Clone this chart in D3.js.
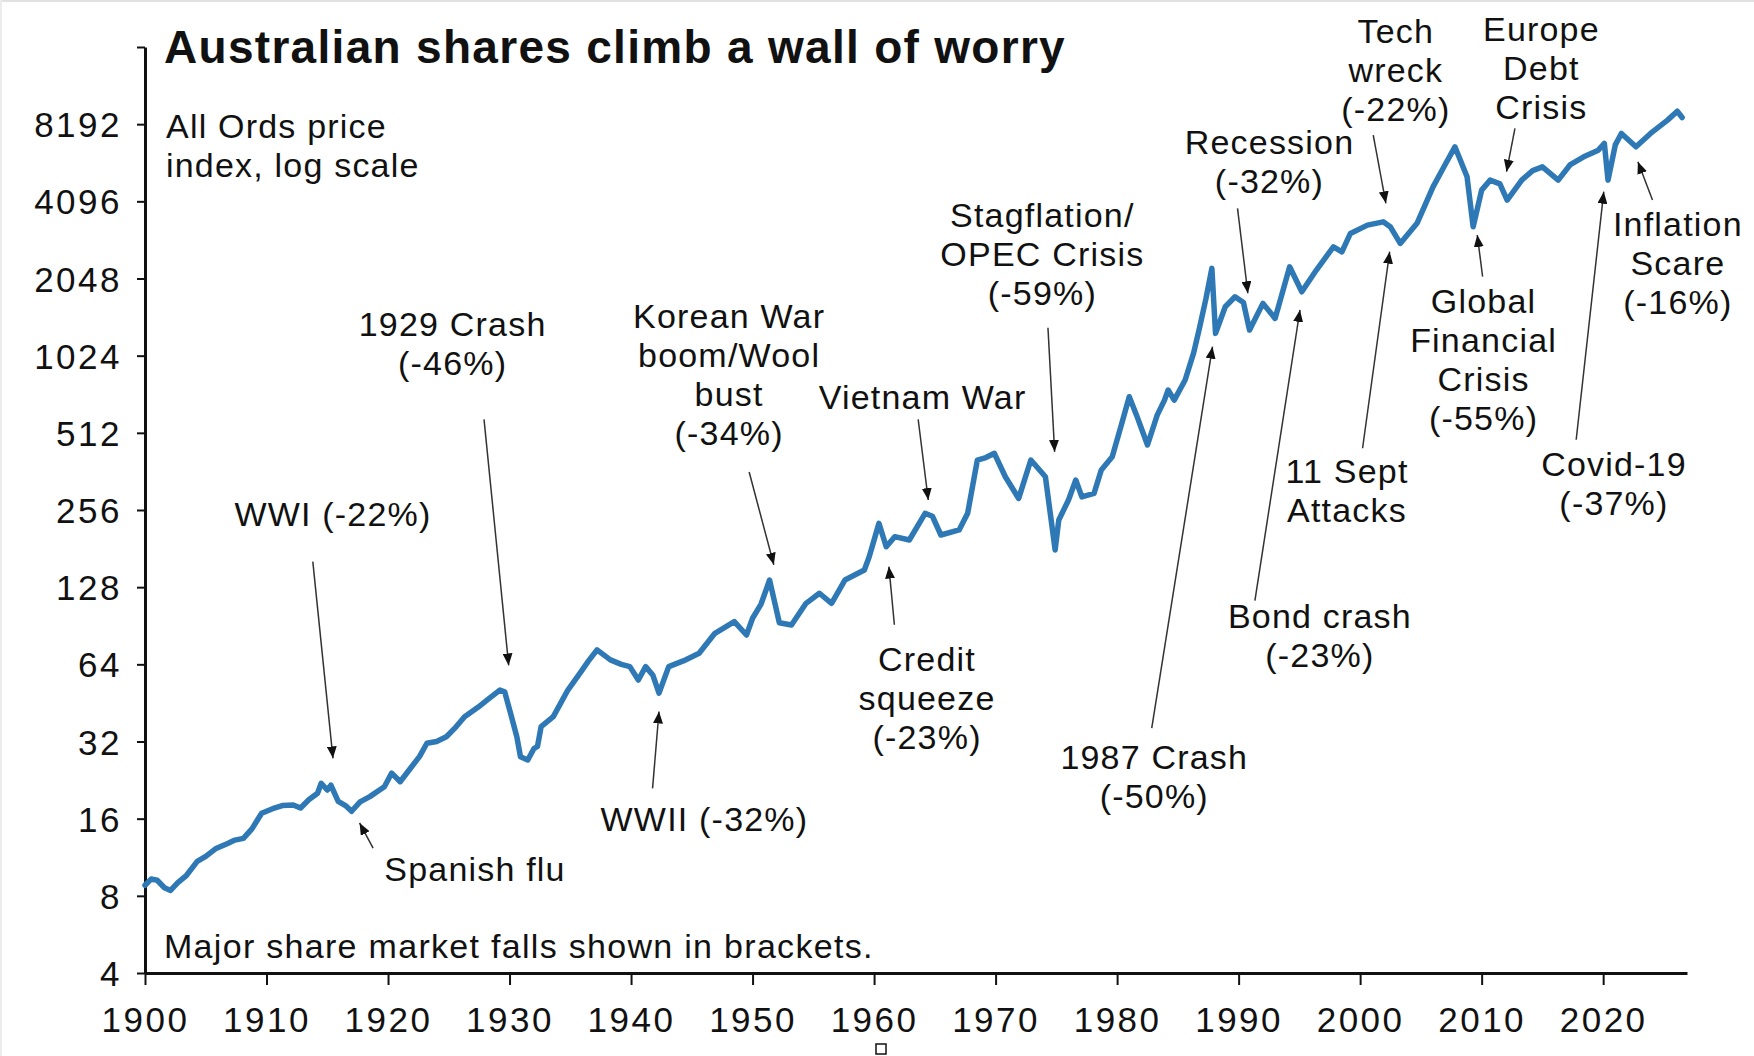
<!DOCTYPE html>
<html>
<head>
<meta charset="utf-8">
<script src="https://cdn.jsdelivr.net/npm/d3@7"></script>
<style>
  body { margin: 0; background: #fff; }
  text { font-family: "Liberation Sans", Arial, sans-serif; fill: #111; }
</style>
</head>
<body>
<svg id="chart" width="1754" height="1056"></svg>
<script>
// All Ords price index (decimal year, index level)
const years = [
  1900.0, 1900.5, 1901.0, 1901.6, 1902.1, 1902.7, 1903.4, 1904.3, 1905.0, 1905.8,
  1906.8, 1907.4, 1908.1, 1908.8, 1909.6, 1910.5, 1911.3, 1912.2, 1912.8, 1913.5,
  1914.2, 1914.5, 1915.0, 1915.3, 1915.9, 1916.5, 1917.0, 1917.7, 1918.5, 1919.7,
  1920.3, 1921.0, 1921.8, 1922.6, 1923.2, 1924.0, 1924.8, 1925.6, 1926.3, 1927.4,
  1928.3, 1929.2, 1929.6, 1930.1, 1930.6, 1930.9, 1931.5, 1932.0, 1932.3, 1932.6,
  1933.6, 1934.3, 1934.8, 1935.8, 1936.5, 1937.2, 1938.3, 1939.2, 1939.9, 1940.6,
  1941.2, 1941.8, 1942.3, 1943.1, 1944.3, 1945.6, 1946.9, 1948.5, 1949.5, 1950.0,
  1950.7, 1951.4, 1952.2, 1953.2, 1954.4, 1955.5, 1956.5, 1957.6, 1959.2, 1959.6,
  1960.4, 1961.0, 1961.7, 1962.9, 1964.2, 1964.8, 1965.5, 1967.0, 1967.7, 1968.5,
  1969.2, 1969.9, 1970.8, 1971.9, 1972.9, 1974.1, 1974.9, 1975.2, 1976.0, 1976.6,
  1977.1, 1978.1, 1978.7, 1979.6, 1980.4, 1981.0, 1981.6, 1982.5, 1983.3, 1983.9,
  1984.2, 1984.7, 1985.6, 1986.3, 1986.8, 1987.3, 1987.8, 1988.1, 1988.9, 1989.7,
  1990.4, 1990.9, 1992.0, 1993.0, 1993.6, 1994.2, 1995.2, 1996.4, 1997.8, 1998.5,
  1999.2, 2000.6, 2001.9, 2002.5, 2003.3, 2004.7, 2006.0, 2007.0, 2007.8, 2008.8,
  2009.3, 2010.0, 2010.7, 2011.5, 2012.1, 2013.3, 2014.2, 2015.0, 2016.3, 2017.3,
  2018.4, 2019.6, 2020.1, 2020.4, 2021.0, 2021.5, 2022.7, 2023.9, 2025.3, 2026.1,
  2026.5
];
const allOrds = [
  8.8, 9.3, 9.2, 8.6, 8.4, 9.0, 9.6, 10.9, 11.4, 12.2,
  12.8, 13.2, 13.4, 14.6, 16.8, 17.5, 18.0, 18.1, 17.6, 19.0,
  20.1, 22.0, 20.7, 21.6, 18.7, 18.0, 17.1, 18.6, 19.5, 21.3,
  24.1, 22.3, 25.0, 28.0, 31.5, 32.0, 33.4, 36.5, 40.0, 43.5,
  47.0, 50.8, 50.0, 41.0, 33.4, 27.9, 27.1, 30.0, 30.6, 36.6,
  40.0, 46.0, 50.8, 59.1, 66.0, 72.9, 66.6, 64.0, 62.7, 55.6,
  62.7, 58.0, 49.4, 62.7, 66.0, 70.7, 84.6, 93.9, 83.3, 96.8,
  110, 136.5, 93, 91.1, 110.7, 121.2, 110.7, 136.5, 149.4, 168.3,
  227, 184, 201.5, 195.5, 248.5, 242, 204.5, 214, 248.5, 401,
  410, 426, 345, 284, 401, 345, 178.8, 234, 280, 335,
  288, 297, 367, 413, 560, 708, 600, 459, 600, 687,
  752, 687, 823, 1050, 1327, 1700, 2243, 1251, 1589, 1738,
  1650, 1289, 1638, 1431, 1800, 2275, 1818, 2209, 2722, 2600,
  3070, 3308, 3407, 3250, 2807, 3373, 4666, 5700, 6683, 5104,
  3259, 4530, 4956, 4790, 4142, 4956, 5400, 5584, 4956, 5700,
  6108, 6486, 6889, 4956, 6800, 7537, 6683, 7537, 8493, 9200,
  8700
];

const yTicks = [4, 8, 16, 32, 64, 128, 256, 512, 1024, 2048, 4096, 8192, 16384];
const xTicks = [1900, 1910, 1920, 1930, 1940, 1950, 1960, 1970, 1980, 1990, 2000, 2010, 2020];

// event labels; label = centre of first line, arrow from -> to, all in [year, index]
const eventText = [
  ["WWI (-22%)"],
  ["Spanish flu"],
  ["1929 Crash", "(-46%)"],
  ["WWII (-32%)"],
  ["Korean War", "boom/Wool", "bust", "(-34%)"],
  ["Credit", "squeeze", "(-23%)"],
  ["Vietnam War"],
  ["Stagflation/", "OPEC Crisis", "(-59%)"],
  ["1987 Crash", "(-50%)"],
  ["Recession", "(-32%)"],
  ["Bond crash", "(-23%)"],
  ["Tech", "wreck", "(-22%)"],
  ["11 Sept", "Attacks"],
  ["Global", "Financial", "Crisis", "(-55%)"],
  ["Europe", "Debt", "Crisis"],
  ["Covid-19", "(-37%)"],
  ["Inflation", "Scare", "(-16%)"]
];
const eventLabelAt = [
  [1915.47, 246], [1927.16, 10.2], [1925.32, 1357], [1946.04, 16],
  [1948.07, 1456], [1964.36, 67.3], [1963.99, 706], [1973.85, 3629],
  [1983.06, 27.8], [1992.54, 6976], [1996.69, 98.6], [2002.94, 18952],
  [1998.92, 364], [2010.16, 1675], [2014.92, 19245], [2020.89, 386],
  [2026.15, 3350]
];
const arrowFrom = [
  [1913.81, 161], [1918.77, 12.27], [1927.9, 578], [1941.77, 21.0],
  [1949.72, 360], [1961.67, 91.3], [1963.63, 578], [1974.31, 1316],
  [1982.85, 36.1], [1989.91, 3848], [1991.34, 113.5], [2001.08, 7428],
  [2000.20, 445.7], [2010.08, 2084], [2012.74, 7892], [2017.78, 481],
  [2024.06, 4145]
];
const arrowTo = [
  [1915.47, 27.5], [1917.66, 15.4], [1929.93, 63.4], [1942.30, 41.9],
  [1951.75, 156.5], [1961.22, 154], [1964.46, 280], [1974.86, 431.6],
  [1987.85, 1110], [1990.76, 1794], [1995.05, 1544], [2002.12, 4023],
  [2002.43, 2606], [2009.64, 3027], [2012.05, 5344], [2020.05, 4466],
  [2022.86, 5845]
];

const svg = d3.select("#chart");

const x = d3.scaleLinear().domain([1900, 2026.9]).range([145, 1687]);
const y = d3.scaleLog().base(2).domain([4, 16384]).range([973, 47]);

// faint frame edges like the screenshot
svg.append("line").attr("x1", 0).attr("x2", 1754).attr("y1", 1).attr("y2", 1)
  .attr("stroke", "#e2e2e2").attr("stroke-width", 2);
svg.append("line").attr("x1", 1).attr("x2", 1).attr("y1", 0).attr("y2", 1056)
  .attr("stroke", "#ececec").attr("stroke-width", 2);

// axes
const yAxis = svg.append("g")
  .attr("transform", `translate(${x(1900)},0)`)
  .call(d3.axisLeft(y).tickValues(yTicks)
    .tickFormat(d => d === 16384 ? "" : d)
    .tickSize(8).tickSizeOuter(0).tickPadding(15));

const xAxis = svg.append("g")
  .attr("transform", `translate(0,${y(4)})`)
  .call(d3.axisBottom(x).tickValues(xTicks)
    .tickFormat(d3.format("d"))
    .tickSize(12).tickSizeOuter(0).tickPadding(22));

[yAxis, xAxis].forEach(g => {
  g.select(".domain").attr("stroke", "#111").attr("stroke-width", 3);
  g.selectAll(".tick line").attr("stroke", "#111").attr("stroke-width", 2);
  g.selectAll(".tick text")
    .attr("fill", "#111")
    .style("font-family", '"Liberation Sans", Arial, sans-serif')
    .style("font-size", "35px")
    .style("letter-spacing", "2.5px");
});
yAxis.selectAll(".tick text").attr("dy", "0.36em");

// the index line
const line = d3.line()
  .x((d, i) => x(years[i]))
  .y(d => y(d));

svg.append("path")
  .datum(allOrds)
  .attr("fill", "none")
  .attr("stroke", "#2E79B5")
  .attr("stroke-width", 5.5)
  .attr("stroke-linejoin", "round")
  .attr("stroke-linecap", "round")
  .attr("d", line);

// arrows
svg.append("defs").append("marker")
  .attr("id", "head")
  .attr("viewBox", "0 -5 12 10")
  .attr("refX", 12).attr("refY", 0)
  .attr("markerUnits", "userSpaceOnUse")
  .attr("markerWidth", 12).attr("markerHeight", 10)
  .attr("orient", "auto")
  .append("path")
  .attr("d", "M0,-5L12,0L0,5Z")
  .attr("fill", "#111");

svg.append("g")
  .selectAll("line")
  .data(arrowFrom)
  .join("line")
  .attr("x1", d => x(d[0]))
  .attr("y1", d => y(d[1]))
  .attr("x2", (d, i) => x(arrowTo[i][0]))
  .attr("y2", (d, i) => y(arrowTo[i][1]))
  .attr("stroke", "#333")
  .attr("stroke-width", 1.5)
  .attr("marker-end", "url(#head)");

// event labels
const lineGap = 39;
const labels = svg.append("g")
  .attr("text-anchor", "middle")
  .style("font-size", "34px")
  .style("letter-spacing", "1.2px");

eventText.forEach((lines, i) => {
  const t = labels.append("text")
    .attr("x", x(eventLabelAt[i][0]))
    .attr("y", y(eventLabelAt[i][1]));
  lines.forEach((s, j) => {
    t.append("tspan")
      .attr("x", x(eventLabelAt[i][0]))
      .attr("dy", j === 0 ? "0.35em" : lineGap)
      .text(s);
  });
});

// title and notes
svg.append("text")
  .attr("x", 164).attr("y", 63)
  .style("font-size", "46px")
  .style("font-weight", "bold")
  .style("letter-spacing", "1.3px")
  .text("Australian shares climb a wall of worry");

const sub = svg.append("text")
  .attr("x", 166).attr("y", 138)
  .style("font-size", "34px")
  .style("letter-spacing", "1.2px");
sub.append("tspan").attr("x", 166).text("All Ords price");
sub.append("tspan").attr("x", 166).attr("dy", lineGap).text("index, log scale");

svg.append("text")
  .attr("x", 164).attr("y", 958)
  .style("font-size", "34px")
  .style("letter-spacing", "1.3px")
  .text("Major share market falls shown in brackets.");

// small handle square at the bottom edge
svg.append("rect")
  .attr("x", 876).attr("y", 1044)
  .attr("width", 10).attr("height", 10)
  .attr("fill", "#fff").attr("stroke", "#111").attr("stroke-width", 1.5);
</script>
</body>
</html>
